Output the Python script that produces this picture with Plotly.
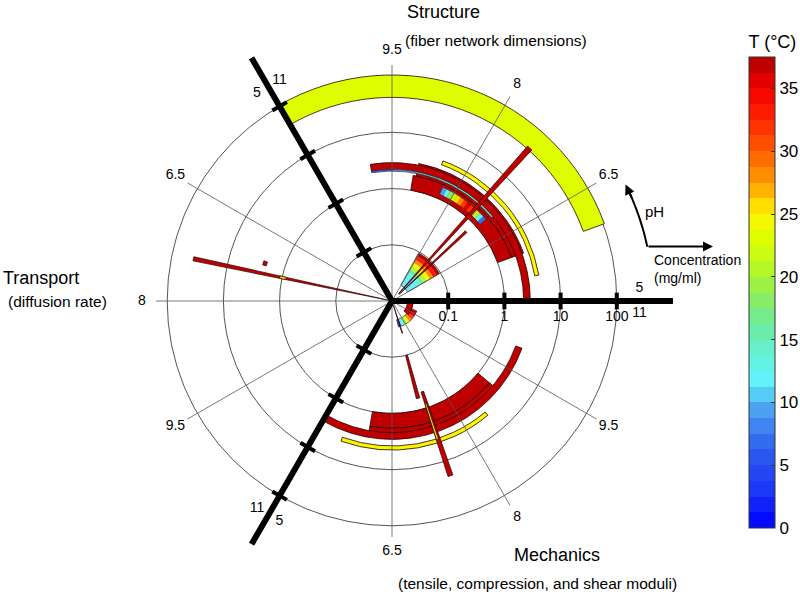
import numpy as np
import plotly.graph_objects as go

# ---------------- data ----------------
SECTOR_START = [0, 120, 240]            # Structure, Transport, Mechanics (deg, ccw from east)
sector_titles = ["Structure", "Transport", "Mechanics"]
sector_subtitles = ["(fiber network dimensions)", "(diffusion rate)",
                    "(tensile, compression, and shear moduli)"]
ph_ticks = [6.5, 8.0, 9.5]
ph_tick_labels = ["6.5", "8", "9.5"]
ph_end_labels = ["5", "11"]
conc_ticks = [0.1, 1, 10, 100]
conc_tick_labels = ["0.1", "1", "10", "100"]
temp_ticks = [0, 5, 10, 15, 20, 25, 30, 35]

# broad arcs: sector index, pH range, concentration range (mg/ml), temperature (°C)
arc_sector = [0, 0, 0, 0, 0, 2, 2, 2, 2]
arc_ph_lo = [6.0, 6.0, 6.0, 5.0, 5.5, 6.0, 6.0, 5.0, 5.5]
arc_ph_hi = [11.0, 9.02, 8.95, 9.95, 8.5, 9.0, 9.0, 10.0, 8.5]
arc_c_lo = [42, 1.0, 1.85, 2.2, 3.8, 1.0, 1.85, 2.2, 3.8]
arc_c_hi = [105, 1.85, 3.1, 2.9, 4.5, 1.85, 2.7, 2.9, 4.5]
arc_temp = [22.6, 37, 37, 37, 24, 37, 37, 37, 24]

# bars with a temperature gradient (temperatures listed along the gradient)
grad_sector = [0, 0, 0, 2]
grad_ph_lo = [6.5, 7.05, 7.0, 7.2]
grad_ph_hi = [8.05, 8.3, 9.95, 9.9]
grad_c_lo = [0.021, 1.2, 2.05, 0.022]
grad_c_hi = [0.095, 1.65, 2.2, 0.030]
grad_dir = ["radial", "angular", "angular", "angular"]
grad_temps = [
    [12, 12, 12, 13, 16, 20, 24, 28, 33, 37],
    [7, 12, 20, 26, 32, 36, 32, 28, 25, 22, 18, 13, 9],
    [13, 13, 12, 11, 9, 6],
    [6, 12, 18, 24, 28, 32, 35, 37],
]

# narrow bars / small marks (drawn on top)
spk_sector = [0, 0, 1, 1, 1, 2, 2, 2, 2, 2]
spk_ph_lo = [7.36, 7.12, 7.37, 7.37, 7.13, 7.20, 7.385, 7.39, 7.36, 9.0]
spk_ph_hi = [7.44, 7.19, 7.43, 7.43, 7.22, 7.30, 7.465, 7.43, 7.42, 10.75]
spk_c_lo = [0.015, 0.015, 0.012, 0.85, 2.1, 0.1, 0.5, 0.83, 0.012, 0.019]
spk_c_hi = [46, 0.64, 41, 1.1, 2.45, 0.62, 19, 3.9, 0.04, 0.024]
spk_temp = [37, 37, 37, 24, 37, 37, 37, 24, 37, 37]

# ---------------- helpers ----------------
DEG_PER_PH = 120.0 / 6.0
FONT = "Arial, Liberation Sans, sans-serif"


def theta_of(sec, ph):
    return SECTOR_START[sec] + (ph - 5.0) * DEG_PER_PH


# discrete jet-like colour scale, 30 bands over 0..37.5 °C
TMIN, TMAX, NB = 0.0, 37.5, 30
anchors = [
    (0.0, (0, 0, 255)), (3, (25, 55, 245)), (6, (45, 90, 240)), (9, (70, 150, 240)),
    (10.5, (85, 200, 245)), (12, (100, 245, 250)), (14, (100, 240, 210)),
    (16.5, (110, 235, 150)), (19, (150, 240, 80)), (21, (190, 250, 30)),
    (23, (220, 255, 0)), (25, (255, 245, 0)), (26.5, (255, 190, 0)),
    (28.5, (255, 130, 0)), (30.5, (255, 80, 0)), (33, (255, 30, 0)),
    (35, (245, 0, 0)), (36.5, (200, 0, 0)), (37.5, (175, 0, 0)),
]
at = np.array([a[0] for a in anchors])
ac = np.array([a[1] for a in anchors], dtype=float)
colorscale = []
for i in range(NB):
    tc = TMIN + (i + 0.5) * (TMAX - TMIN) / NB
    rgb = [int(round(np.interp(tc, at, ac[:, k]))) for k in range(3)]
    col = "rgb(%d,%d,%d)" % tuple(rgb)
    colorscale.append([i / NB, col])
    colorscale.append([(i + 1) / NB, col])

fig = go.Figure()


def add_bars(sec, lo, hi, clo, chi, temps, lw=0.8, lc="#2a0000", fill=None):
    th = [theta_of(s, (a + b) / 2) for s, a, b in zip(sec, lo, hi)]
    wd = [(b - a) * DEG_PER_PH for a, b in zip(lo, hi)]
    base = [np.log10(c) for c in clo]
    rr = [np.log10(h) - np.log10(l) for l, h in zip(clo, chi)]
    if fill is None:
        marker = dict(color=temps, coloraxis="coloraxis", line=dict(color=lc, width=lw))
    else:
        marker = dict(color=fill, line=dict(color=lc, width=lw))
    fig.add_trace(go.Barpolar(theta=th, r=rr, base=base, width=wd, marker=marker,
                              hoverinfo="skip", showlegend=False))


# broad arcs
add_bars(arc_sector, arc_ph_lo, arc_ph_hi, arc_c_lo, arc_c_hi, arc_temp)

# gradient bars: split into segments
g_sec, g_lo, g_hi, g_clo, g_chi, g_t = [], [], [], [], [], []
for s, a, b, cl, ch, d, temps in zip(grad_sector, grad_ph_lo, grad_ph_hi,
                                     grad_c_lo, grad_c_hi, grad_dir, grad_temps):
    n = len(temps)
    for i, t in enumerate(temps):
        if d == "angular":
            g_sec.append(s)
            g_lo.append(a + (b - a) * i / n)
            g_hi.append(a + (b - a) * (i + 1) / n)
            g_clo.append(cl)
            g_chi.append(ch)
        else:
            l0, l1 = np.log10(cl), np.log10(ch)
            g_sec.append(s)
            g_lo.append(a)
            g_hi.append(b)
            g_clo.append(10 ** (l0 + (l1 - l0) * i / n))
            g_chi.append(10 ** (l0 + (l1 - l0) * (i + 1) / n))
        g_t.append(t)
add_bars(g_sec, g_lo, g_hi, g_clo, g_chi, g_t, lw=0)
add_bars(grad_sector, grad_ph_lo, grad_ph_hi, grad_c_lo, grad_c_hi, None,
         lw=0.7, lc="#333333", fill="rgba(0,0,0,0)")

# narrow bars on top
add_bars(spk_sector, spk_ph_lo, spk_ph_hi, spk_c_lo, spk_c_hi, spk_temp, lw=0.7)

# spokes (pH grid lines)
sp_r, sp_t = [], []
for k in range(3):
    for p in ph_ticks:
        sp_r += [-2, 2.2, None]
        sp_t += [theta_of(k, p), theta_of(k, p), None]
fig.add_trace(go.Scatterpolar(r=sp_r, theta=sp_t, mode="lines",
                              line=dict(color="#555555", width=0.8),
                              hoverinfo="skip", showlegend=False))

# thick sector boundary axes
ax_r, ax_t = [], []
for k in range(3):
    ax_r += [-2, 3, None]
    ax_t += [SECTOR_START[k], SECTOR_START[k], None]
fig.add_trace(go.Scatterpolar(r=ax_r, theta=ax_t, mode="lines",
                              line=dict(color="black", width=6),
                              hoverinfo="skip", showlegend=False))
tk_r, tk_t, tk_a = [], [], []
for k in range(3):
    for c in conc_ticks:
        tk_r.append(np.log10(c))
        tk_t.append(SECTOR_START[k])
        tk_a.append(-SECTOR_START[k])
fig.add_trace(go.Scatterpolar(r=tk_r, theta=tk_t, mode="markers",
                              marker=dict(symbol="line-ns", size=12, angle=tk_a,
                                          line=dict(color="black", width=4)),
                              hoverinfo="skip", showlegend=False))

# pH labels
lab_r, lab_t, lab_s = [], [], []
for k in range(3):
    for p, s in zip(ph_ticks, ph_tick_labels):
        lab_r.append(2.45)
        lab_t.append(theta_of(k, p))
        lab_s.append(s)
    lab_r += [2.41, 2.41]
    lab_t += [SECTOR_START[k] + 3, SECTOR_START[k] - 3]
    lab_s += [ph_end_labels[0], ph_end_labels[1]]
fig.add_trace(go.Scatterpolar(r=lab_r, theta=lab_t, mode="text", text=lab_s,
                              textfont=dict(family=FONT, size=14, color="black"),
                              cliponaxis=False, hoverinfo="skip", showlegend=False))

# pH direction arc
arc_th = list(np.linspace(12, 25, 20))
fig.add_trace(go.Scatterpolar(r=[2.644] * len(arc_th), theta=arc_th, mode="lines",
                              line=dict(color="black", width=2),
                              cliponaxis=False, hoverinfo="skip", showlegend=False))

W, H = 800, 596
CX, CY, R = 392, 301, 281


def px(x):
    return x / W


def py(y):
    return 1 - y / H


ann = []
title_pos = [((443, 12), (496, 40)), ((41, 278), (58, 301)), ((557, 555), (537, 583))]
for t, st, (p1, p2) in zip(sector_titles, sector_subtitles, title_pos):
    ann.append(dict(text=t, x=px(p1[0]), y=py(p1[1]), xref="paper", yref="paper",
                    showarrow=False, font=dict(family=FONT, size=18, color="black"),
                    xanchor="center", yanchor="middle"))
    ann.append(dict(text=st, x=px(p2[0]), y=py(p2[1]), xref="paper", yref="paper",
                    showarrow=False, font=dict(family=FONT, size=15.5, color="black"),
                    xanchor="center", yanchor="middle"))

# arrow heads / legend arrows
tip_th, tail_th, rpx = np.radians(26.5), np.radians(23.0), 261
tipx, tipy = CX + rpx * np.cos(tip_th), CY - rpx * np.sin(tip_th)
tlx, tly = CX + rpx * np.cos(tail_th), CY - rpx * np.sin(tail_th)
ann.append(dict(text="", x=px(tipx), y=py(tipy), xref="paper", yref="paper",
                ax=tlx - tipx, ay=tly - tipy, showarrow=True, arrowhead=2,
                arrowsize=1, arrowwidth=2, arrowcolor="black"))
ann.append(dict(text="", x=px(713), y=py(246.5), xref="paper", yref="paper",
                ax=-66, ay=0, showarrow=True, arrowhead=2, arrowsize=1,
                arrowwidth=2, arrowcolor="black"))
ann.append(dict(text="pH", x=px(654), y=py(211.5), xref="paper", yref="paper",
                showarrow=False, font=dict(family=FONT, size=15, color="black"),
                xanchor="center", yanchor="middle"))
ann.append(dict(text="Concentration", x=px(652), y=py(260), xref="paper", yref="paper",
                showarrow=False, font=dict(family=FONT, size=14, color="black"),
                xanchor="left", yanchor="middle"))
ann.append(dict(text="(mg/ml)", x=px(652), y=py(278), xref="paper", yref="paper",
                showarrow=False, font=dict(family=FONT, size=14, color="black"),
                xanchor="left", yanchor="middle"))

fig.update_layout(
    width=W, height=H, margin=dict(l=0, r=0, t=0, b=0, autoexpand=False),
    paper_bgcolor="white", plot_bgcolor="white",
    font=dict(family=FONT, color="black"),
    polar=dict(
        domain=dict(x=[(CX - R) / W, (CX + R) / W], y=[1 - (CY + R) / H, 1 - (CY - R) / H]),
        bgcolor="white", barmode="overlay",
        radialaxis=dict(range=[-2, 3], tickvals=[np.log10(c) for c in conc_ticks],
                        ticktext=conc_tick_labels, showline=False,
                        ticks="outside", ticklen=3, tickcolor="rgba(0,0,0,0)",
                        showgrid=True, gridcolor="#555555", gridwidth=0.8,
                        angle=0, tickangle=0, side="clockwise",
                        tickfont=dict(family=FONT, size=14, color="black")),
        angularaxis=dict(showgrid=False, showticklabels=False, ticks="", showline=False,
                         rotation=0, direction="counterclockwise"),
    ),
    coloraxis=dict(
        cmin=TMIN, cmax=TMAX, colorscale=colorscale,
        colorbar=dict(x=749 / W, xanchor="left", xpad=0, y=1 - 280 / H, yanchor="middle",
                      ypad=0, len=496, lenmode="pixels", thickness=26,
                      thicknessmode="pixels", outlinewidth=1, outlinecolor="#333333",
                      tickvals=temp_ticks, ticks="inside", ticklen=4, tickcolor="#333333",
                      tickfont=dict(family=FONT, size=17, color="black"),
                      title=dict(text="T (°C)", side="top",
                                 font=dict(family=FONT, size=18, color="black"))),
    ),
    annotations=ann,
    showlegend=False,
)

fig.write_html("out.html", config={"displayModeBar": False},
               post_script="document.body.style.margin='0';document.body.style.padding='0';")
